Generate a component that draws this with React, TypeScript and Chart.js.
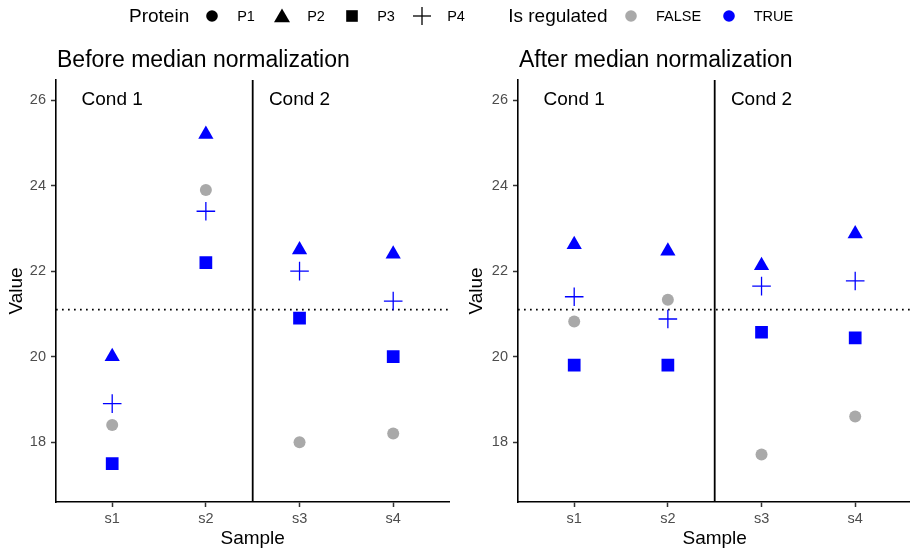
import React, { useEffect, useRef } from 'react';
import { Chart, registerables } from 'chart.js';

Chart.register(...registerables);

// ---------- data ----------
const samples = ['s1', 's2', 's3', 's4'];
const sampleX = [1, 2, 3, 4];
const proteins = ['P1', 'P2', 'P3', 'P4'];
const isRegulated = [false, true, true, true];
const regulatedLabels = ['FALSE', 'TRUE'];

const beforeP1 = [18.4, 23.9, 18.0, 18.2];
const beforeP2 = [20.0, 25.2, 22.5, 22.4];
const beforeP3 = [17.5, 22.2, 20.9, 20.0];
const beforeP4 = [18.9, 23.4, 22.0, 21.3];

const afterP1 = [20.82, 21.33, 17.71, 18.6];
const afterP2 = [22.62, 22.47, 22.13, 22.87];
const afterP3 = [19.8, 19.8, 20.57, 20.44];
const afterP4 = [21.4, 20.88, 21.65, 21.77];

const medianValue = 21.1;
const conditions = ['Cond 1', 'Cond 2'];
const conditionX = [1, 3];
const conditionLabelY = 26;
const conditionBoundary = 2.5;
const yTicks = [18, 20, 22, 24, 26];
const yMin = 16.6;
const yMax = 26.47;
const xMin = 0.4;
const xMax = 4.6;

// ---------- styles ----------
const FONT = '"Liberation Sans", Arial, Helvetica, sans-serif';
const BLUE = '#0000FF';
const GREY = '#A9A9A9';
const shapes = ['circle', 'triangle', 'rect', 'cross'];
const radii = [6, 8.8, 9, 9.3];
const regColor = (r: boolean) => (r ? BLUE : GREY);

const decorPlugin = {
  id: 'decor',
  beforeDatasetsDraw(chart: any, _args: any, opts: any) {
    const { ctx, chartArea, scales } = chart;
    const x = scales.x;
    const y = scales.y;
    ctx.save();
    // dotted median line
    ctx.strokeStyle = '#000';
    ctx.lineWidth = 1.7;
    ctx.setLineDash([1.7, 4.3]);
    const yp = y.getPixelForValue(medianValue);
    ctx.beginPath();
    ctx.moveTo(chartArea.left, yp);
    ctx.lineTo(chartArea.right, yp);
    ctx.stroke();
    ctx.setLineDash([]);
    // condition boundary
    const xp = x.getPixelForValue(conditionBoundary);
    ctx.lineWidth = 1.8;
    ctx.beginPath();
    ctx.moveTo(xp, chartArea.top);
    ctx.lineTo(xp, chartArea.bottom);
    ctx.stroke();
    // condition labels
    ctx.fillStyle = '#000';
    ctx.font = `19px ${FONT}`;
    ctx.textAlign = 'center';
    ctx.textBaseline = 'middle';
    conditions.forEach((c, i) => {
      ctx.fillText(c, x.getPixelForValue(conditionX[i]), y.getPixelForValue(conditionLabelY));
    });
    // panel title
    ctx.textAlign = 'left';
    ctx.font = `23px ${FONT}`;
    ctx.fillText(opts.title, chartArea.left + 1, 60.5);
    ctx.restore();
  },
};

function makeConfig(series: number[][], title: string, yAxisWidth: number, padRight: number): any {
  const datasets = proteins.map((p, i) => ({
    label: p,
    data: sampleX.map((sx, j) => ({ x: sx, y: series[i][j] })),
    pointStyle: shapes[i],
    pointRadius: radii[i],
    pointBackgroundColor: regColor(isRegulated[i]),
    pointBorderColor: regColor(isRegulated[i]),
    pointBorderWidth: shapes[i] === 'cross' ? 1.3 : 0,
    showLine: false,
  }));
  return {
    type: 'scatter',
    data: { datasets },
    plugins: [decorPlugin],
    options: {
      responsive: false,
      animation: false,
      devicePixelRatio: 1,
      layout: { padding: { top: 80, right: padRight, left: 0, bottom: 0 } },
      plugins: {
        legend: { display: false },
        tooltip: { enabled: false },
        decor: { title },
      },
      scales: {
        x: {
          type: 'linear',
          min: xMin,
          max: xMax,
          afterBuildTicks: (ax: any) => {
            ax.ticks = sampleX.map((v) => ({ value: v }));
          },
          afterFit: (s: any) => {
            s.height = 48;
          },
          ticks: {
            callback: (v: any) => samples[sampleX.indexOf(Number(v))] ?? '',
            color: '#4D4D4D',
            font: { size: 14.5, family: FONT },
            padding: 3,
            maxRotation: 0,
            autoSkip: false,
          },
          grid: {
            display: true,
            drawOnChartArea: false,
            drawTicks: true,
            tickLength: 5,
            color: '#333333',
            tickColor: '#333333',
            tickWidth: 1.5,
          },
          border: { display: true, color: '#000', width: 1.6 },
          title: {
            display: true,
            text: 'Sample',
            color: '#000',
            font: { size: 19, family: FONT, lineHeight: 1.2 },
            padding: { top: 0, bottom: 0 },
          },
        },
        y: {
          type: 'linear',
          min: yMin,
          max: yMax,
          afterBuildTicks: (ax: any) => {
            ax.ticks = yTicks.map((v) => ({ value: v }));
          },
          afterFit: (s: any) => {
            s.width = yAxisWidth;
          },
          ticks: {
            color: '#4D4D4D',
            font: { size: 14.5, family: FONT },
            padding: 5,
          },
          grid: {
            display: true,
            drawOnChartArea: false,
            drawTicks: true,
            tickLength: 5,
            color: '#333333',
            tickColor: '#333333',
            tickWidth: 1.5,
          },
          border: { display: true, color: '#000', width: 1.6 },
          title: {
            display: true,
            text: 'Value',
            color: '#000',
            font: { size: 19, family: FONT, lineHeight: 1.2 },
            padding: { top: 5.6, bottom: 0 },
          },
        },
      },
    },
  };
}

function Symbol({ shape, color }: { shape: string; color: string }) {
  return (
    <svg width={18} height={18} viewBox="0 0 18 18" style={{ display: 'block' }}>
      {shape === 'circle' && <circle cx={9} cy={9} r={5.8} fill={color} />}
      {shape === 'triangle' && <polygon points="9,1.5 17,15.3 1,15.3" fill={color} />}
      {shape === 'rect' && <rect x={3.2} y={3.2} width={11.6} height={11.6} fill={color} />}
      {shape === 'cross' && (
        <g stroke={color} strokeWidth={1.3}>
          <line x1={0} y1={9} x2={18} y2={9} />
          <line x1={9} y1={0} x2={9} y2={18} />
        </g>
      )}
    </svg>
  );
}

export default function App() {
  const leftRef = useRef<HTMLCanvasElement>(null);
  const rightRef = useRef<HTMLCanvasElement>(null);

  useEffect(() => {
    const left = new Chart(
      leftRef.current as HTMLCanvasElement,
      makeConfig([beforeP1, beforeP2, beforeP3, beforeP4], 'Before median normalization', 56, 10)
    );
    const right = new Chart(
      rightRef.current as HTMLCanvasElement,
      makeConfig([afterP1, afterP2, afterP3, afterP4], 'After median normalization', 58, 10)
    );
    return () => {
      left.destroy();
      right.destroy();
    };
  }, []);

  return (
    <div
      style={{
        position: 'absolute',
        left: 0,
        top: 0,
        width: 910,
        height: 550,
        overflow: 'hidden',
        background: '#fff',
        fontFamily: FONT,
      }}
    >
      <canvas
        ref={leftRef}
        width={460}
        height={550}
        style={{ position: 'absolute', left: 0, top: 0, width: 460, height: 550 }}
      />
      <canvas
        ref={rightRef}
        width={462}
        height={550}
        style={{ position: 'absolute', left: 460, top: 0, width: 462, height: 550 }}
      />
      <div
        style={{
          position: 'absolute',
          left: 129,
          top: 0,
          height: 31,
          display: 'flex',
          alignItems: 'center',
          color: '#000',
          whiteSpace: 'nowrap',
        }}
      >
        <span style={{ fontSize: 19, marginRight: 14 }}>Protein</span>
        {proteins.map((p, i) => (
          <React.Fragment key={p}>
            <Symbol shape={shapes[i]} color="#000" />
            <span style={{ fontSize: 14.5, marginLeft: 16, width: 36, display: 'inline-block' }}>{p}</span>
          </React.Fragment>
        ))}
        <span style={{ fontSize: 19, marginLeft: 25, marginRight: 14.5 }}>Is regulated</span>
        {regulatedLabels.map((l, i) => (
          <React.Fragment key={l}>
            <Symbol shape="circle" color={regColor(i === 1)} />
            <span
              style={{
                fontSize: 14.5,
                marginLeft: 16,
                width: i === 0 ? 63.7 : undefined,
                display: 'inline-block',
              }}
            >
              {l}
            </span>
          </React.Fragment>
        ))}
      </div>
    </div>
  );
}
